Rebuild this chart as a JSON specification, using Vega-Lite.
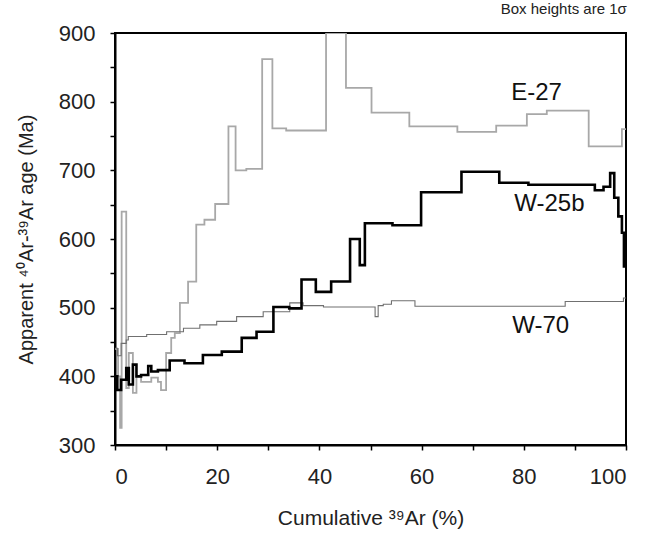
{
  "$schema": "https://vega.github.io/schema/vega-lite/v6.json",
  "autosize": "none",
  "width": 511,
  "height": 412,
  "padding": {"left": 115, "top": 33, "right": 22, "bottom": 88},
  "background": "white",
  "config": {
    "font": "Liberation Sans",
    "view": {"stroke": "black", "strokeWidth": 2},
    "axis": {"domainColor": "black", "domainWidth": 2, "tickColor": "black", "tickWidth": 1.5, "grid": false, "labelColor": "#222", "titleColor": "#222", "labelFont": "Liberation Sans", "titleFont": "Liberation Sans", "titleFontWeight": "normal"}
  },
  "title": {"text": "Box heights are 1σ", "anchor": "end", "fontSize": 15, "fontWeight": "normal", "font": "Liberation Sans", "color": "#222", "offset": 5},
  "datasets": {
    "spectra": [
      {"series": "E-27", "x": 0, "age": 440},
      {"series": "E-27", "x": 0.6, "age": 400},
      {"series": "E-27", "x": 1.0, "age": 325},
      {"series": "E-27", "x": 1.3, "age": 640},
      {"series": "E-27", "x": 2.2, "age": 383},
      {"series": "E-27", "x": 2.7, "age": 434},
      {"series": "E-27", "x": 3.5, "age": 376},
      {"series": "E-27", "x": 4.2, "age": 400},
      {"series": "E-27", "x": 5.1, "age": 392},
      {"series": "E-27", "x": 7.1, "age": 398},
      {"series": "E-27", "x": 8.4, "age": 392},
      {"series": "E-27", "x": 9.0, "age": 380},
      {"series": "E-27", "x": 10.0, "age": 434},
      {"series": "E-27", "x": 11.0, "age": 456},
      {"series": "E-27", "x": 11.7, "age": 463},
      {"series": "E-27", "x": 12.7, "age": 507},
      {"series": "E-27", "x": 14.3, "age": 538},
      {"series": "E-27", "x": 15.9, "age": 621},
      {"series": "E-27", "x": 17.5, "age": 628},
      {"series": "E-27", "x": 19.6, "age": 651},
      {"series": "E-27", "x": 22.2, "age": 764},
      {"series": "E-27", "x": 23.6, "age": 700},
      {"series": "E-27", "x": 25.7, "age": 702},
      {"series": "E-27", "x": 28.8, "age": 862},
      {"series": "E-27", "x": 30.8, "age": 761},
      {"series": "E-27", "x": 33.5, "age": 758},
      {"series": "E-27", "x": 41.3, "age": 900},
      {"series": "E-27", "x": 45.2, "age": 820},
      {"series": "E-27", "x": 50.2, "age": 784},
      {"series": "E-27", "x": 57.6, "age": 764},
      {"series": "E-27", "x": 67.0, "age": 756},
      {"series": "E-27", "x": 74.6, "age": 765},
      {"series": "E-27", "x": 80.6, "age": 782},
      {"series": "E-27", "x": 84.5, "age": 787},
      {"series": "E-27", "x": 92.7, "age": 735},
      {"series": "E-27", "x": 99.2, "age": 760},
      {"series": "E-27", "x": 100, "age": 760},
      {"series": "W-25b", "x": 0, "age": 400},
      {"series": "W-25b", "x": 0.45, "age": 380},
      {"series": "W-25b", "x": 1.2, "age": 395},
      {"series": "W-25b", "x": 2.2, "age": 412},
      {"series": "W-25b", "x": 2.7, "age": 388},
      {"series": "W-25b", "x": 3.5, "age": 417},
      {"series": "W-25b", "x": 4.2, "age": 400},
      {"series": "W-25b", "x": 5.1, "age": 402},
      {"series": "W-25b", "x": 6.5, "age": 415},
      {"series": "W-25b", "x": 7.1, "age": 407},
      {"series": "W-25b", "x": 8.4, "age": 409},
      {"series": "W-25b", "x": 10.7, "age": 423},
      {"series": "W-25b", "x": 13.6, "age": 419},
      {"series": "W-25b", "x": 17.2, "age": 431},
      {"series": "W-25b", "x": 20.9, "age": 436},
      {"series": "W-25b", "x": 24.8, "age": 456},
      {"series": "W-25b", "x": 27.7, "age": 465},
      {"series": "W-25b", "x": 31.0, "age": 501},
      {"series": "W-25b", "x": 34.1, "age": 499},
      {"series": "W-25b", "x": 36.5, "age": 541},
      {"series": "W-25b", "x": 39.3, "age": 523},
      {"series": "W-25b", "x": 42.3, "age": 538},
      {"series": "W-25b", "x": 46.0, "age": 600},
      {"series": "W-25b", "x": 47.9, "age": 562},
      {"series": "W-25b", "x": 48.9, "age": 623},
      {"series": "W-25b", "x": 54.3, "age": 620},
      {"series": "W-25b", "x": 59.9, "age": 668},
      {"series": "W-25b", "x": 67.8, "age": 698},
      {"series": "W-25b", "x": 75.2, "age": 682},
      {"series": "W-25b", "x": 80.9, "age": 679},
      {"series": "W-25b", "x": 93.9, "age": 671},
      {"series": "W-25b", "x": 95.6, "age": 676},
      {"series": "W-25b", "x": 96.9, "age": 696},
      {"series": "W-25b", "x": 97.7, "age": 660},
      {"series": "W-25b", "x": 98.5, "age": 633},
      {"series": "W-25b", "x": 99.2, "age": 609},
      {"series": "W-25b", "x": 99.6, "age": 560},
      {"series": "W-25b", "x": 100, "age": 560},
      {"series": "W-70", "x": 0, "age": 441},
      {"series": "W-70", "x": 0.5, "age": 430},
      {"series": "W-70", "x": 1.2, "age": 448},
      {"series": "W-70", "x": 2.2, "age": 453},
      {"series": "W-70", "x": 2.6, "age": 458},
      {"series": "W-70", "x": 6.2, "age": 461},
      {"series": "W-70", "x": 10.1, "age": 465},
      {"series": "W-70", "x": 13.4, "age": 470},
      {"series": "W-70", "x": 16.6, "age": 475},
      {"series": "W-70", "x": 19.9, "age": 480},
      {"series": "W-70", "x": 23.8, "age": 487},
      {"series": "W-70", "x": 29.0, "age": 494},
      {"series": "W-70", "x": 34.2, "age": 507},
      {"series": "W-70", "x": 36.8, "age": 503},
      {"series": "W-70", "x": 40.8, "age": 501},
      {"series": "W-70", "x": 50.9, "age": 487},
      {"series": "W-70", "x": 51.5, "age": 503},
      {"series": "W-70", "x": 52.5, "age": 505},
      {"series": "W-70", "x": 54.1, "age": 510},
      {"series": "W-70", "x": 58.7, "age": 502},
      {"series": "W-70", "x": 88.1, "age": 509},
      {"series": "W-70", "x": 99.5, "age": 514},
      {"series": "W-70", "x": 100, "age": 514}
    ],
    "labels": [
      {"label": "E-27", "x": 82.5, "age": 812},
      {"label": "W-25b", "x": 85, "age": 651},
      {"label": "W-70", "x": 83.3, "age": 473}
    ]
  },
  "encoding": {
    "x": {"field": "x", "type": "quantitative",
      "scale": {"domain": [0, 100], "nice": false},
      "axis": {"values": [0, 10, 20, 30, 40, 50, 60, 70, 80, 90, 100], "labelExpr": "datum.value % 20 === 0 ? datum.label : ''", "tickSize": 5, "labelFontSize": 22, "labelPadding": 16, "title": "Cumulative ³⁹Ar (%)", "titleFontSize": 21, "titlePadding": 20}},
    "y": {"field": "age", "type": "quantitative",
      "scale": {"domain": [300, 900], "nice": false, "zero": false},
      "axis": {"values": [300, 350, 400, 450, 500, 550, 600, 650, 700, 750, 800, 850, 900], "labelExpr": "datum.value % 100 === 0 ? datum.label : ''", "tickSize": 5, "labelFontSize": 22, "labelPadding": 15, "title": "Apparent ⁴⁰Ar-³⁹Ar age (Ma)", "titleFontSize": 20, "titlePadding": 22}}
  },
  "layer": [
    {
      "data": {"name": "spectra"},
      "transform": [{"filter": "datum.series === 'E-27'"}],
      "mark": {"type": "line", "interpolate": "step-after", "clip": true, "color": "#a8a8a8", "strokeWidth": 1.8},
      "encoding": {"order": {"field": "x", "type": "quantitative"}}
    },
    {
      "data": {"name": "spectra"},
      "transform": [{"filter": "datum.series === 'W-70'"}],
      "mark": {"type": "line", "interpolate": "step-after", "clip": true, "color": "#707070", "strokeWidth": 1.1},
      "encoding": {"order": {"field": "x", "type": "quantitative"}}
    },
    {
      "data": {"name": "spectra"},
      "transform": [{"filter": "datum.series === 'W-25b'"}],
      "mark": {"type": "line", "interpolate": "step-after", "clip": true, "color": "#000000", "strokeWidth": 2.6},
      "encoding": {"order": {"field": "x", "type": "quantitative"}}
    },
    {
      "data": {"name": "labels"},
      "mark": {"type": "text", "fontSize": 24, "font": "Liberation Sans", "color": "#111", "align": "center", "baseline": "middle"},
      "encoding": {
        "text": {"field": "label"}
      }
    }
  ]
}
